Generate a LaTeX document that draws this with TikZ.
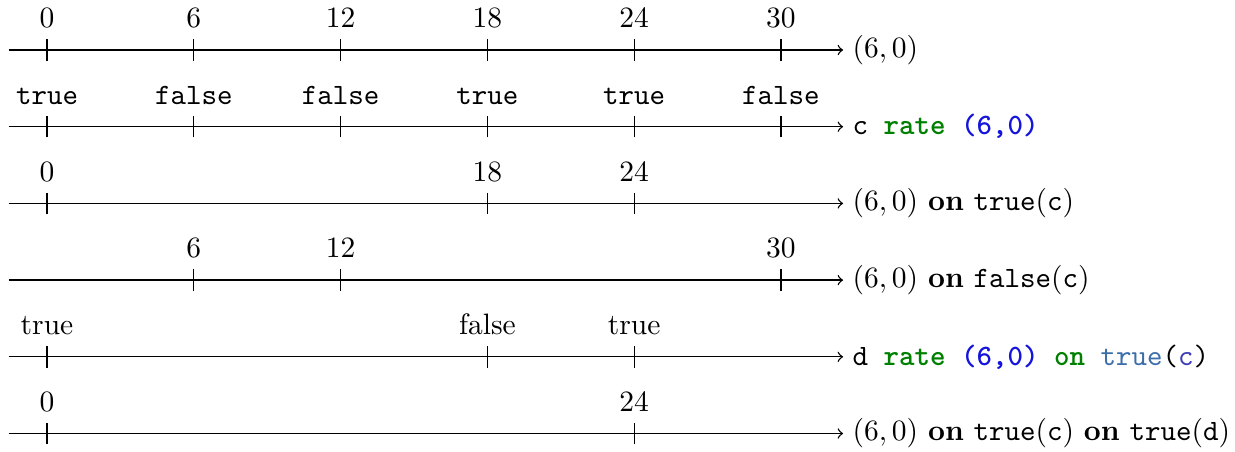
\documentclass[tikz,border=0pt]{standalone}
\definecolor{kwgreen}{RGB}{0,128,0}
\definecolor{numblue}{RGB}{20,20,220}
\definecolor{steel}{RGB}{60,110,170}
\definecolor{idblue}{RGB}{60,60,180}
\tikzset{
  every node/.style={font=\fontsize{10.95}{13.6}\selectfont},
  axis/.style={->,line width=0.5pt},
  tick/.style={line width=0.5pt},
  ticklabel/.style={anchor=base,inner sep=0pt},
  rlabel/.style={anchor=west}
}
\begin{document}
\begin{tikzpicture}
\useasboundingbox (-0.613,0.652) rectangle (15.49,-5.241);
\def\d{1.914}
% axes
\foreach \k/\lab in {0/{$(6,0)$},
  1/{\texttt{c \textcolor{kwgreen}{\bfseries rate} \textcolor{numblue}{\bfseries (6,0)}}},
  2/{$(6,0)$ \textbf{on} \texttt{true}(\texttt{c})},
  3/{$(6,0)$ \textbf{on} \texttt{false}(\texttt{c})},
  4/{\texttt{d \textcolor{kwgreen}{\bfseries rate} \textcolor{numblue}{\bfseries (6,0)} \textcolor{kwgreen}{\bfseries on} \textcolor{steel}{true}(\textcolor{idblue}{c})}},
  5/{$(6,0)$ \textbf{on} \texttt{true}(\texttt{c}) \textbf{on} \texttt{true}(\texttt{d})}} {
  \coordinate (s\k) at (-0.5,-\k);
  \coordinate (e\k) at (10.38,-\k);
  \draw[axis] (s\k) -- (e\k);
  \node[rlabel] (l\k) at (e\k) {\lab};
}
% line 0
\foreach \i/\t in {0/0,1/6,2/12,3/18,4/24,5/30} {
  \coordinate (a\i) at (\i*\d,0);
  \draw[tick] ([yshift=-4pt]a\i) -- ([yshift=4pt]a\i);
  \node[ticklabel] (ta\i) at ([yshift=0.29cm]a\i) {$\t$};
}
% line 1
\foreach \i/\t in {0/true,1/false,2/false,3/true,4/true,5/false} {
  \coordinate (b\i) at (\i*\d,-1);
  \draw[tick] ([yshift=-4pt]b\i) -- ([yshift=4pt]b\i);
  \node[ticklabel] (tb\i) at ([yshift=0.29cm]b\i) {\texttt{\t}};
}
% line 2
\foreach \i/\t in {0/0,3/18,4/24} {
  \coordinate (c\i) at (\i*\d,-2);
  \draw[tick] ([yshift=-4pt]c\i) -- ([yshift=4pt]c\i);
  \node[ticklabel] (tc\i) at ([yshift=0.29cm]c\i) {$\t$};
}
% line 3
\foreach \i/\t in {1/6,2/12,5/30} {
  \coordinate (d\i) at (\i*\d,-3);
  \draw[tick] ([yshift=-4pt]d\i) -- ([yshift=4pt]d\i);
  \node[ticklabel] (td\i) at ([yshift=0.29cm]d\i) {$\t$};
}
% line 4
\foreach \i/\t in {0/true,3/false,4/true} {
  \coordinate (f\i) at (\i*\d,-4);
  \draw[tick] ([yshift=-4pt]f\i) -- ([yshift=4pt]f\i);
  \node[ticklabel] (tf\i) at ([yshift=0.29cm]f\i) {\t};
}
% line 5
\foreach \i/\t in {0/0,4/24} {
  \coordinate (g\i) at (\i*\d,-5);
  \draw[tick] ([yshift=-4pt]g\i) -- ([yshift=4pt]g\i);
  \node[ticklabel] (tg\i) at ([yshift=0.29cm]g\i) {$\t$};
}
\end{tikzpicture}
\end{document}
